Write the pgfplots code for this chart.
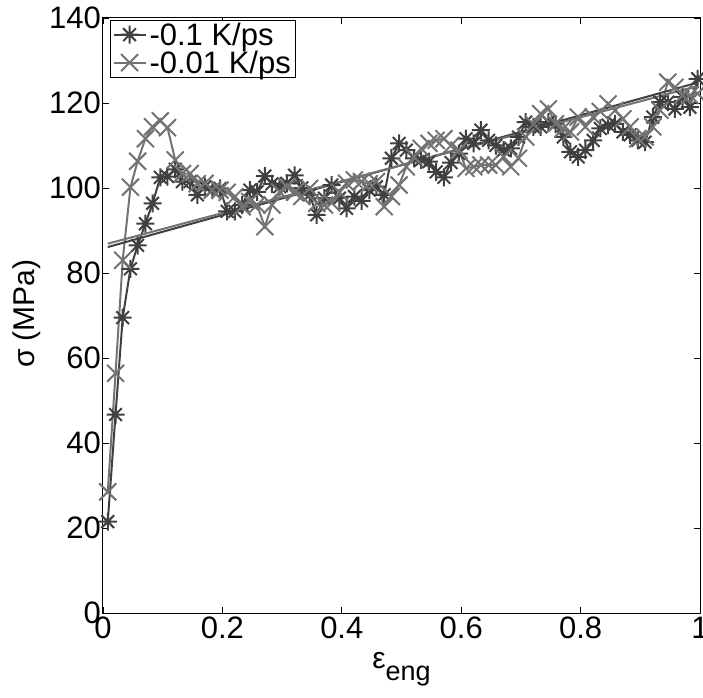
\documentclass[border=0pt]{standalone}
\usepackage{fontspec}
\setmainfont{Liberation Sans}
\usepackage{pgfplots}
\pgfplotsset{compat=1.18}
\usetikzlibrary{calc}

\definecolor{cA}{RGB}{64,64,64}
\definecolor{cB}{RGB}{115,115,115}

\pgfdeclareplotmark{star8}{%
  \pgfpathmoveto{\pgfqpoint{-\pgfplotmarksize}{0pt}}%
  \pgfpathlineto{\pgfqpoint{\pgfplotmarksize}{0pt}}%
  \pgfpathmoveto{\pgfqpoint{0pt}{-\pgfplotmarksize}}%
  \pgfpathlineto{\pgfqpoint{0pt}{\pgfplotmarksize}}%
  \pgfpathmoveto{\pgfqpoint{-0.7071\pgfplotmarksize}{-0.7071\pgfplotmarksize}}%
  \pgfpathlineto{\pgfqpoint{0.7071\pgfplotmarksize}{0.7071\pgfplotmarksize}}%
  \pgfpathmoveto{\pgfqpoint{-0.7071\pgfplotmarksize}{0.7071\pgfplotmarksize}}%
  \pgfpathlineto{\pgfqpoint{0.7071\pgfplotmarksize}{-0.7071\pgfplotmarksize}}%
  \pgfusepathqstroke}

\pgfplotstableread{
x y
0.008 21.5
0.021 46.7
0.033 69.5
0.046 81.0
0.058 86.5
0.071 91.6
0.083 96.4
0.096 102.5
0.108 102.7
0.121 104.4
0.133 101.5
0.146 101.5
0.158 98.4
0.171 100.3
0.183 99.5
0.196 99.9
0.208 94.5
0.221 94.5
0.233 96.0
0.246 99.5
0.258 99.1
0.271 102.8
0.283 101.0
0.296 100.3
0.308 101.1
0.321 103.0
0.333 100.0
0.346 98.4
0.358 93.7
0.371 97.6
0.383 100.7
0.396 97.6
0.408 95.2
0.421 98.0
0.433 97.0
0.446 99.5
0.458 100.3
0.471 98.4
0.483 107.0
0.496 110.5
0.508 108.9
0.521 107.0
0.533 106.6
0.546 106.2
0.558 103.8
0.571 102.5
0.583 106.0
0.596 108.1
0.608 111.6
0.621 110.5
0.633 113.6
0.646 111.2
0.658 110.0
0.671 108.9
0.683 109.3
0.696 112.0
0.708 115.5
0.721 114.4
0.733 114.4
0.746 115.5
0.758 115.0
0.771 112.0
0.783 108.5
0.796 107.3
0.808 108.9
0.821 111.2
0.833 114.0
0.846 114.8
0.858 115.1
0.871 113.2
0.883 112.5
0.896 111.2
0.908 110.8
0.921 116.7
0.933 120.2
0.946 120.2
0.958 118.6
0.971 121.4
0.983 119.0
0.996 125.7
}\seriesA

\pgfplotstableread{
x y
0.008 28.5
0.021 56.4
0.033 83.0
0.046 100.2
0.058 106.3
0.071 111.6
0.083 114.4
0.096 115.8
0.108 114.2
0.121 106.6
0.133 103.4
0.146 103.4
0.158 101.0
0.171 101.1
0.183 99.5
0.196 99.5
0.208 99.0
0.221 98.0
0.233 95.6
0.246 96.8
0.258 96.0
0.271 90.9
0.283 96.0
0.296 99.1
0.308 100.3
0.321 99.0
0.333 98.0
0.346 99.9
0.358 96.4
0.371 96.0
0.383 96.5
0.396 99.0
0.408 101.1
0.421 101.9
0.433 101.5
0.446 101.0
0.458 101.5
0.471 95.6
0.483 98.0
0.496 100.7
0.508 105.0
0.521 107.3
0.533 109.3
0.546 110.5
0.558 111.2
0.571 111.6
0.583 110.0
0.596 108.9
0.608 104.6
0.621 105.0
0.633 105.4
0.646 105.4
0.658 105.4
0.671 107.3
0.683 105.0
0.696 107.0
0.708 112.0
0.721 115.0
0.733 117.5
0.746 118.6
0.758 115.1
0.771 114.0
0.783 113.2
0.796 116.7
0.808 114.4
0.821 116.7
0.833 118.0
0.846 119.8
0.858 118.3
0.871 116.3
0.883 114.4
0.896 111.6
0.908 112.0
0.921 114.4
0.933 118.3
0.946 124.9
0.958 123.7
0.971 121.8
0.983 121.8
0.996 122.2
}\seriesB

\begin{document}
\begin{tikzpicture}
\begin{axis}[
  scale only axis,
  width=597pt, height=595pt,
  xmin=0, xmax=1, ymin=0, ymax=140,
  xtick={0,0.2,0.4,0.6,0.8,1},
  xticklabels={0,0.2,0.4,0.6,0.8,1},
  ytick={0,20,40,60,80,100,120,140},
  tick align=inside,
  major tick length=6pt,
  tick style={black, line width=0.8pt},
  axis line style={black, line width=1pt},
  /pgf/number format/assume math mode=true,
  ticklabel style={font=\fontsize{31}{36}\selectfont},
  xticklabel style={inner ysep=4pt},
  yticklabel style={inner xsep=2pt},
  xlabel={ε\raisebox{-0.42em}{\fontsize{27}{30}\selectfont eng}},
  xlabel style={font=\fontsize{30}{36}\selectfont, at={(axis description cs:0.5,-0.093)}, anchor=base},
  ylabel={σ (MPa)},
  ylabel style={font=\fontsize{30}{36}\selectfont, at={(axis description cs:-0.128,0.503)}, anchor=center},
  legend style={at={(axis description cs:0.012,0.997)}, anchor=north west,
    draw=black, line width=0.8pt, fill=white,
    font=\fontsize{31}{32}\selectfont, inner xsep=2pt, inner ysep=1pt, row sep=1pt,
    cells={anchor=west}, nodes={inner xsep=3pt, inner ysep=1.5pt}},
  legend image code/.code={%
    \draw[mark repeat=2, mark phase=2] plot coordinates {(0pt,0pt) (16pt,0pt) (32pt,0pt)};},
  clip=false,
]
\addplot[cA, line width=2pt, mark=star8, mark size=9pt, mark options={solid, line width=2pt}] table[x=x,y=y] {\seriesA};
\addlegendentry{-0.1 K/ps}
\addplot[cB, line width=2pt, mark=x, mark size=12pt, mark options={solid, line width=2pt}] table[x=x,y=y] {\seriesB};
\addlegendentry{-0.01 K/ps}
\addplot[cA, line width=2pt, forget plot] coordinates {(0.008,86.1) (0.996,124.8)};
\addplot[cB, line width=2pt, forget plot] coordinates {(0.008,86.9) (0.996,124.0)};
\coordinate (SW) at (rel axis cs:0,0);
\coordinate (NE) at (rel axis cs:1,1);
\end{axis}
\pgfresetboundingbox
\path[use as bounding box] ($(SW)+(-103pt,-84pt)$) rectangle ($(NE)+(3pt,18pt)$);
\end{tikzpicture}
\end{document}
